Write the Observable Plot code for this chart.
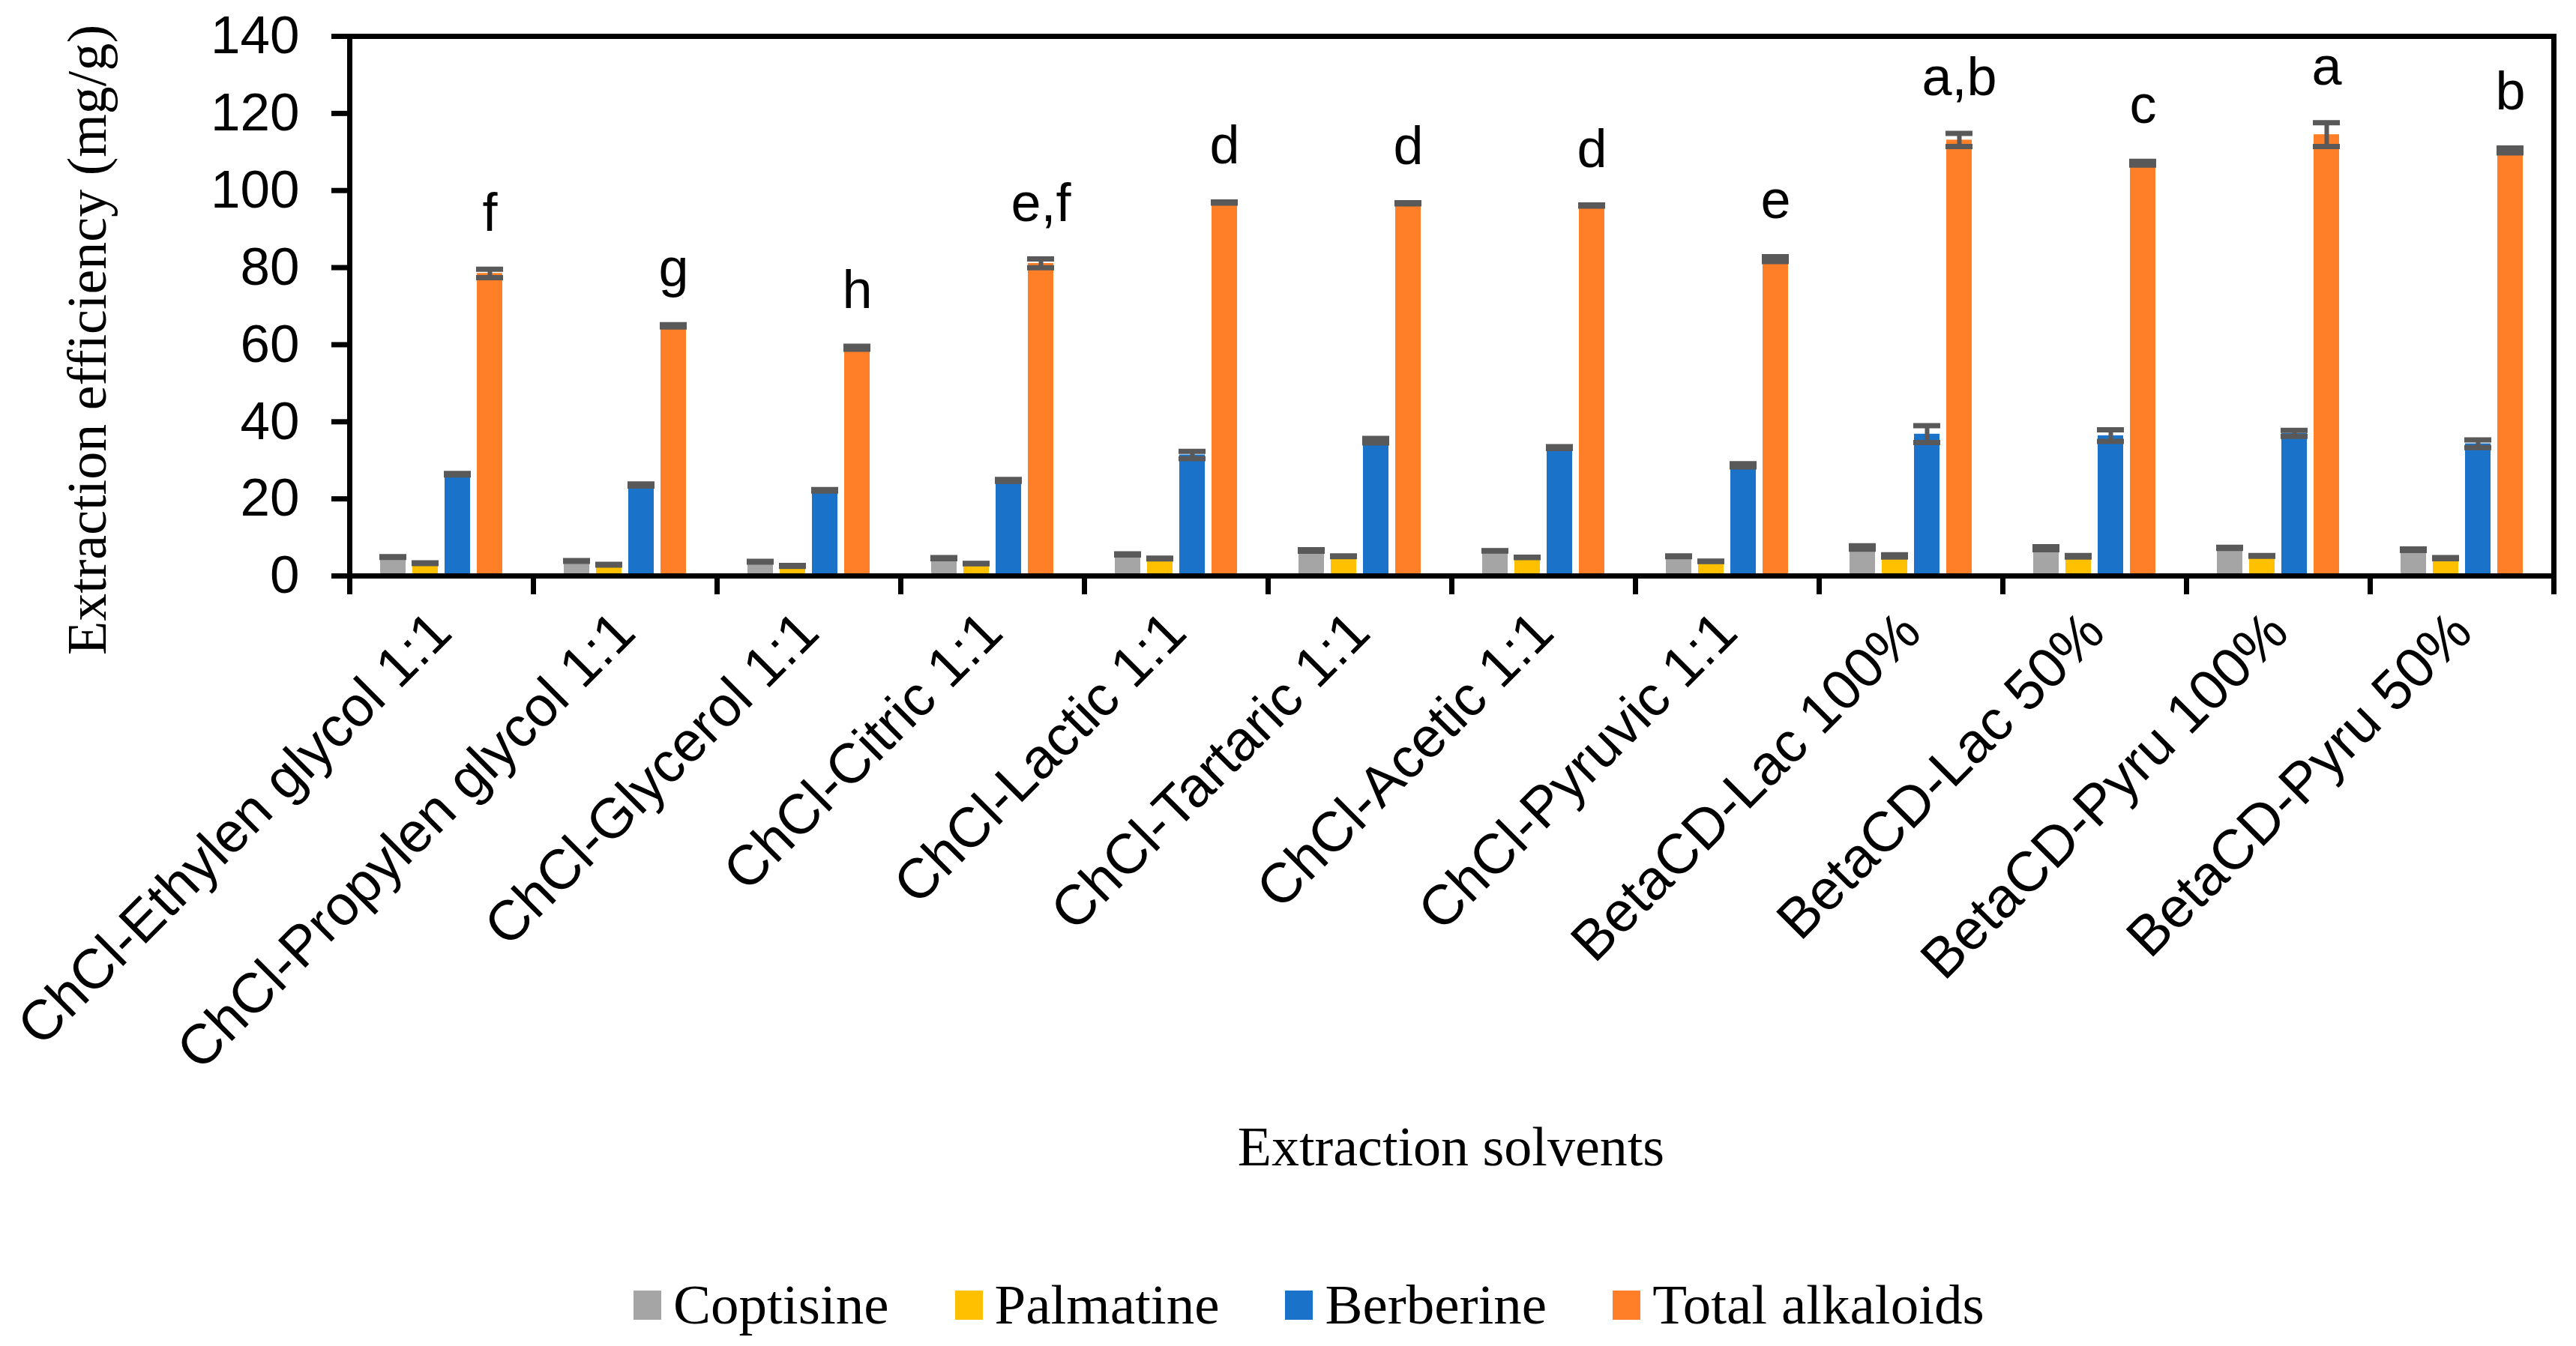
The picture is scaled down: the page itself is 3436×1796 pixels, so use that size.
<!DOCTYPE html>
<html>
<head>
<meta charset="utf-8">
<script src="https://cdn.jsdelivr.net/npm/d3@7"></script>
<script src="https://cdn.jsdelivr.net/npm/@observablehq/plot@0.6"></script>
<style>
  html, body { margin: 0; padding: 0; background: #fff; }
  #wrap { position: relative; width: 3436px; height: 1796px; overflow: hidden; background: #fff; }
  #xtitle { position: absolute; left: 1935.5px; top: 1490px; transform: translateX(-50%);
    font-family: "Liberation Serif", "Times New Roman", serif; font-size: 74px; line-height: 80px; color: #000; white-space: nowrap; }
  #legend { position: absolute; left: 845px; top: 1701px; display: flex; align-items: center;
    font-family: "Liberation Serif", "Times New Roman", serif; font-size: 75px; line-height: 80px; color: #000; white-space: nowrap; }
  .item { display: flex; align-items: center; margin-right: 88px; }
  .sw { width: 37px; height: 39px; margin-right: 16px; }
</style>
</head>
<body>
<div id="wrap"></div>
<script>
// ---- data ----
const groups = [
  "ChCl-Ethylen glycol 1:1", "ChCl-Propylen glycol 1:1", "ChCl-Glycerol 1:1", "ChCl-Citric 1:1",
  "ChCl-Lactic 1:1", "ChCl-Tartaric 1:1", "ChCl-Acetic 1:1", "ChCl-Pyruvic 1:1",
  "BetaCD-Lac 100%", "BetaCD-Lac 50%", "BetaCD-Pyru 100%", "BetaCD-Pyru 50%"
];
const series = ["Coptisine", "Palmatine", "Berberine", "Total alkaloids"];
const colors = ["#A5A5A5", "#FFC000", "#1A73C9", "#FF7F28"];

const coptisine   = [4.9, 3.9, 3.7, 4.6, 5.6, 6.6, 6.5, 5.1, 7.4, 7.2, 7.3, 6.8];
const coptisineSD = [0.1, 0.1, 0.1, 0.15, 0.15, 0.2, 0.05, 0.1, 0.45, 0.4, 0.15, 0.2];
const palmatine   = [3.3, 2.9, 2.6, 3.2, 4.5, 5.1, 4.8, 3.8, 5.2, 5.1, 5.2, 4.6];
const palmatineSD = [0.1, 0.1, 0.1, 0.05, 0.1, 0.1, 0.05, 0.05, 0.3, 0.2, 0.1, 0.15];
const berberine   = [26.4, 23.6, 22.2, 24.8, 31.4, 35.1, 33.3, 28.7, 36.8, 36.4, 37.0, 34.3];
const berberineSD = [0.2, 0.25, 0.2, 0.25, 0.95, 0.6, 0.25, 0.4, 2.2, 1.5, 0.77, 1.0];
const total       = [78.5, 64.9, 59.2, 81.1, 96.9, 96.7, 96.1, 82.2, 113.1, 107.1, 114.5, 110.4];
const totalSD     = [1.1, 0.3, 0.4, 1.15, 0.15, 0.15, 0.15, 0.65, 1.7, 0.5, 3.1, 0.65];
const letters     = ["f", "g", "h", "e,f", "d", "d", "d", "e", "a,b", "c", "a", "b"];
const yTicks      = [0, 20, 40, 60, 80, 100, 120, 140];

const values = [coptisine, palmatine, berberine, total];
const sds = [coptisineSD, palmatineSD, berberineSD, totalSD];

const table = [];
groups.forEach((g, i) => series.forEach((s, j) =>
  table.push({group: g, series: s, value: values[j][i], sd: sds[j][i]})));
const tops = groups.map((g, i) => ({group: g, series: "Total alkaloids", top: total[i] + totalSD[i], letter: letters[i]}));

const SANS = "Liberation Sans, Arial, sans-serif";
const SERIF = "Liberation Serif, Times New Roman, serif";
const CAP = "#595959";

function build(step) {
  const marks = [
    Plot.barY(table, {fx: "group", x: "series", y: "value", fill: "series"}),
    Plot.ruleX(table, {fx: "group", x: "series", y1: d => d.value - d.sd, y2: d => d.value + d.sd, stroke: CAP, strokeWidth: 6}),
    Plot.tickY(table, {fx: "group", x: "series", y: d => d.value + d.sd, stroke: CAP, strokeWidth: 7, insetLeft: -1, insetRight: -1}),
    Plot.tickY(table, {fx: "group", x: "series", y: d => d.value - d.sd, stroke: CAP, strokeWidth: 7, insetLeft: -1, insetRight: -1}),
    Plot.text(tops, {fx: "group", x: "series", y: "top", text: "letter", dy: -74, fontSize: 72, fontFamily: SANS, fill: "#000"}),
    Plot.ruleY([140], {stroke: "#000", strokeWidth: 7}),
    Plot.ruleY([0], {stroke: "#000", strokeWidth: 7}),
    Plot.frame({anchor: "left", facetAnchor: "left", stroke: "#000", strokeWidth: 7}),
    Plot.frame({anchor: "right", facetAnchor: "right", stroke: "#000", strokeWidth: 7}),
    Plot.axisY({anchor: "left", ticks: yTicks, tickSize: 24, tickPadding: 43, fontSize: 71, fontFamily: SANS,
      stroke: "#000", strokeWidth: 7, label: null}),
    Plot.text(["Extraction efficiency (mg/g)"], {frameAnchor: "left", facetAnchor: "left", rotate: -90, dx: -349, dy: 45,
      textAnchor: "middle", lineAnchor: "middle", fontSize: 74, fontFamily: SERIF, fill: "#000"}),
    Plot.axisFx({anchor: "bottom", tickSize: 0, tickRotate: -45, tickPadding: 62, textAnchor: "end", lineAnchor: "middle",
      fontSize: 75, fontFamily: SANS, label: null})
  ];
  if (step) {
    marks.push(
      Plot.axisFx({anchor: "bottom", tickSize: 25, tickFormat: () => "", dx: -step / 2, stroke: "#000", strokeWidth: 7, label: null}),
      Plot.axisFx({anchor: "bottom", ticks: [groups[groups.length - 1]], tickSize: 25, tickFormat: () => "", dx: step / 2,
        stroke: "#000", strokeWidth: 7, label: null})
    );
  }
  return Plot.plot({
    width: 3436,
    height: 1480,
    marginLeft: 465,
    marginRight: 30,
    marginTop: 48,
    marginBottom: 1480 - 768,
    style: {fontFamily: SANS, color: "#000", background: "#fff", overflow: "visible"},
    fx: {domain: groups, padding: 0, axis: null, label: null},
    x: {domain: series, paddingInner: 0.2, paddingOuter: 0.885, axis: null},
    y: {domain: [0, 140], axis: null},
    color: {domain: series, range: colors},
    marks
  });
}

const first = build(null);
const step = first.scale("fx").step;
const chart = build(step);
const wrap = document.getElementById("wrap");
wrap.appendChild(chart);

const xt = document.createElement("div");
xt.id = "xtitle";
xt.textContent = "Extraction solvents";
wrap.appendChild(xt);

const legend = document.createElement("div");
legend.id = "legend";
series.forEach((s, j) => {
  const it = document.createElement("div");
  it.className = "item";
  const sw = document.createElement("div");
  sw.className = "sw";
  sw.style.background = colors[j];
  const tx = document.createElement("span");
  tx.textContent = s;
  it.appendChild(sw);
  it.appendChild(tx);
  legend.appendChild(it);
});
wrap.appendChild(legend);
</script>
</body>
</html>
